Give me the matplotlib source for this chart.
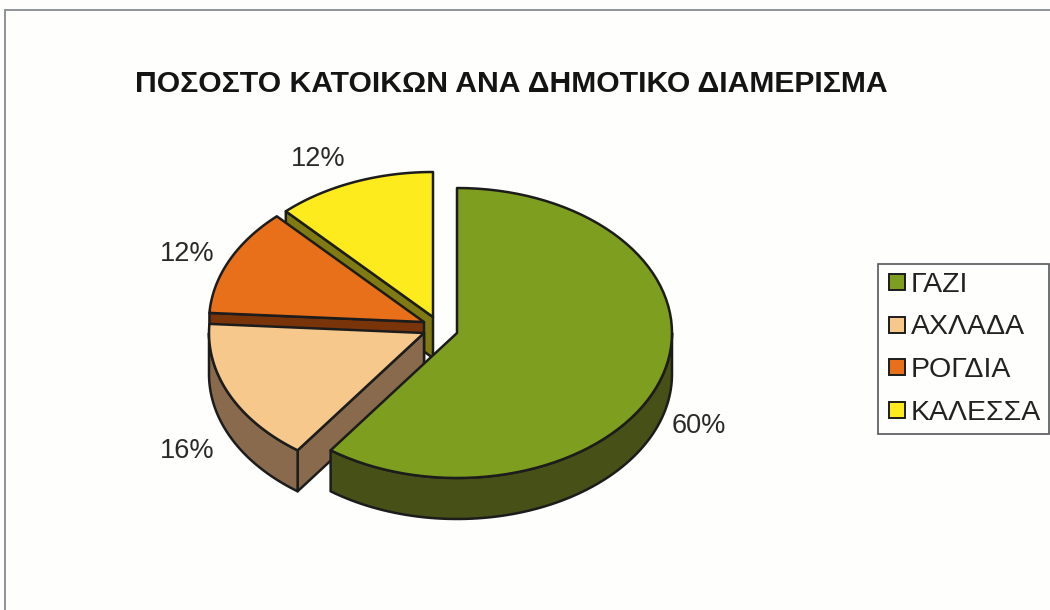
import numpy as np
import matplotlib
matplotlib.use("Agg")
import matplotlib.pyplot as plt
from matplotlib.patches import Polygon
from matplotlib.lines import Line2D

categories = ["ΓΑΖΙ", "ΑΧΛΑΔΑ", "ΡΟΓΔΙΑ", "ΚΑΛΕΣΣΑ"]
values = [60, 16, 12, 12]
labels = ["60%", "16%", "12%", "12%"]
title = "ΠΟΣΟΣΤΟ ΚΑΤΟΙΚΩΝ ΑΝΑ ΔΗΜΟΤΙΚΟ ΔΙΑΜΕΡΙΣΜΑ"

top_colors = ["#7D9E1F", "#F7C88C", "#E8701A", "#FDEB1E"]
side_colors = ["#475016", "#8A6A4C", "#7A3409", "#7F7A12"]
apexes = [(457, 333), (424, 333), (424, 322), (433, 317)]
label_pos = [(672, 426), (160, 451), (160, 254), (291, 159)]
RX, RY, DEPTH = 215, 145, 41
EDGE = "#1c1c1c"

plt.rcParams["font.family"] = ["Liberation Sans", "DejaVu Sans"]
fig = plt.figure(figsize=(10.5, 6.1), dpi=100, facecolor="#FEFEFD")
ax = fig.add_axes([0, 0, 1, 1])
ax.set_xlim(0, 1050)
ax.set_ylim(610, 0)
ax.axis("off")

# page frame
ax.plot([5, 5, 1050], [610, 10, 10], color="#8f9299", lw=1.4, solid_joinstyle="miter")


def rim(apex, a0, a1, n=80):
    t = np.radians(np.linspace(a0, a1, n))
    return np.column_stack([apex[0] + RX * np.sin(t), apex[1] - RY * np.cos(t)])


def poly(points, color, z):
    ax.add_patch(Polygon(points, closed=True, facecolor=color, edgecolor=EDGE,
                         lw=1.8, joinstyle="round", zorder=z))


fractions = np.array(values) / sum(values) * 360
starts = np.concatenate([[0], np.cumsum(fractions)[:-1]])
ends = starts + fractions
drop = np.array([0, DEPTH])

# painter's order: back slices first
for z, i in enumerate([3, 2, 1, 0]):
    apex = np.array(apexes[i], dtype=float)
    a0, a1 = starts[i], ends[i]
    base = 10 + z * 3
    # cut face at the clockwise start of the slice, when it faces the viewer
    if a0 > 180:
        edge_pt = rim(apex, a0, a0, 1)[0]
        poly([apex, edge_pt, edge_pt + drop, apex + drop], side_colors[i], base)
    # outer wall on the lower half of the ellipse
    lo, hi = max(a0, 90), min(a1, 270)
    if lo < hi:
        r = rim(apex, lo, hi)
        poly(np.vstack([r, (r + drop)[::-1]]), side_colors[i], base + 1)
    # top face
    poly(np.vstack([[apex], rim(apex, a0, a1)]), top_colors[i], base + 2)

ax.text(135, 84, title, fontsize=21.7, fontweight="bold", color="#141414",
        ha="left", va="center")

for text, (x, y) in zip(labels, label_pos):
    ax.text(x, y, text, fontsize=19.5, color="#2a2a2a", ha="left", va="center")

handles = [Line2D([], [], linestyle="none", marker="s", markersize=11,
                  markerfacecolor=c, markeredgecolor=EDGE, markeredgewidth=1.4)
           for c in top_colors]
leg = ax.legend(handles, categories, loc="upper left", bbox_to_anchor=(878, 264),
                bbox_transform=ax.transData, fontsize=20.5, frameon=True, fancybox=False,
                edgecolor="#55575a", facecolor="#FEFEFD", framealpha=1,
                handlelength=0.76, handletextpad=0.12, numpoints=1,
                labelspacing=0.59, borderpad=0.27, borderaxespad=0, labelcolor="#222222")
leg.get_frame().set_linewidth(1.2)

fig.savefig("out.png", dpi=100, facecolor=fig.get_facecolor())
